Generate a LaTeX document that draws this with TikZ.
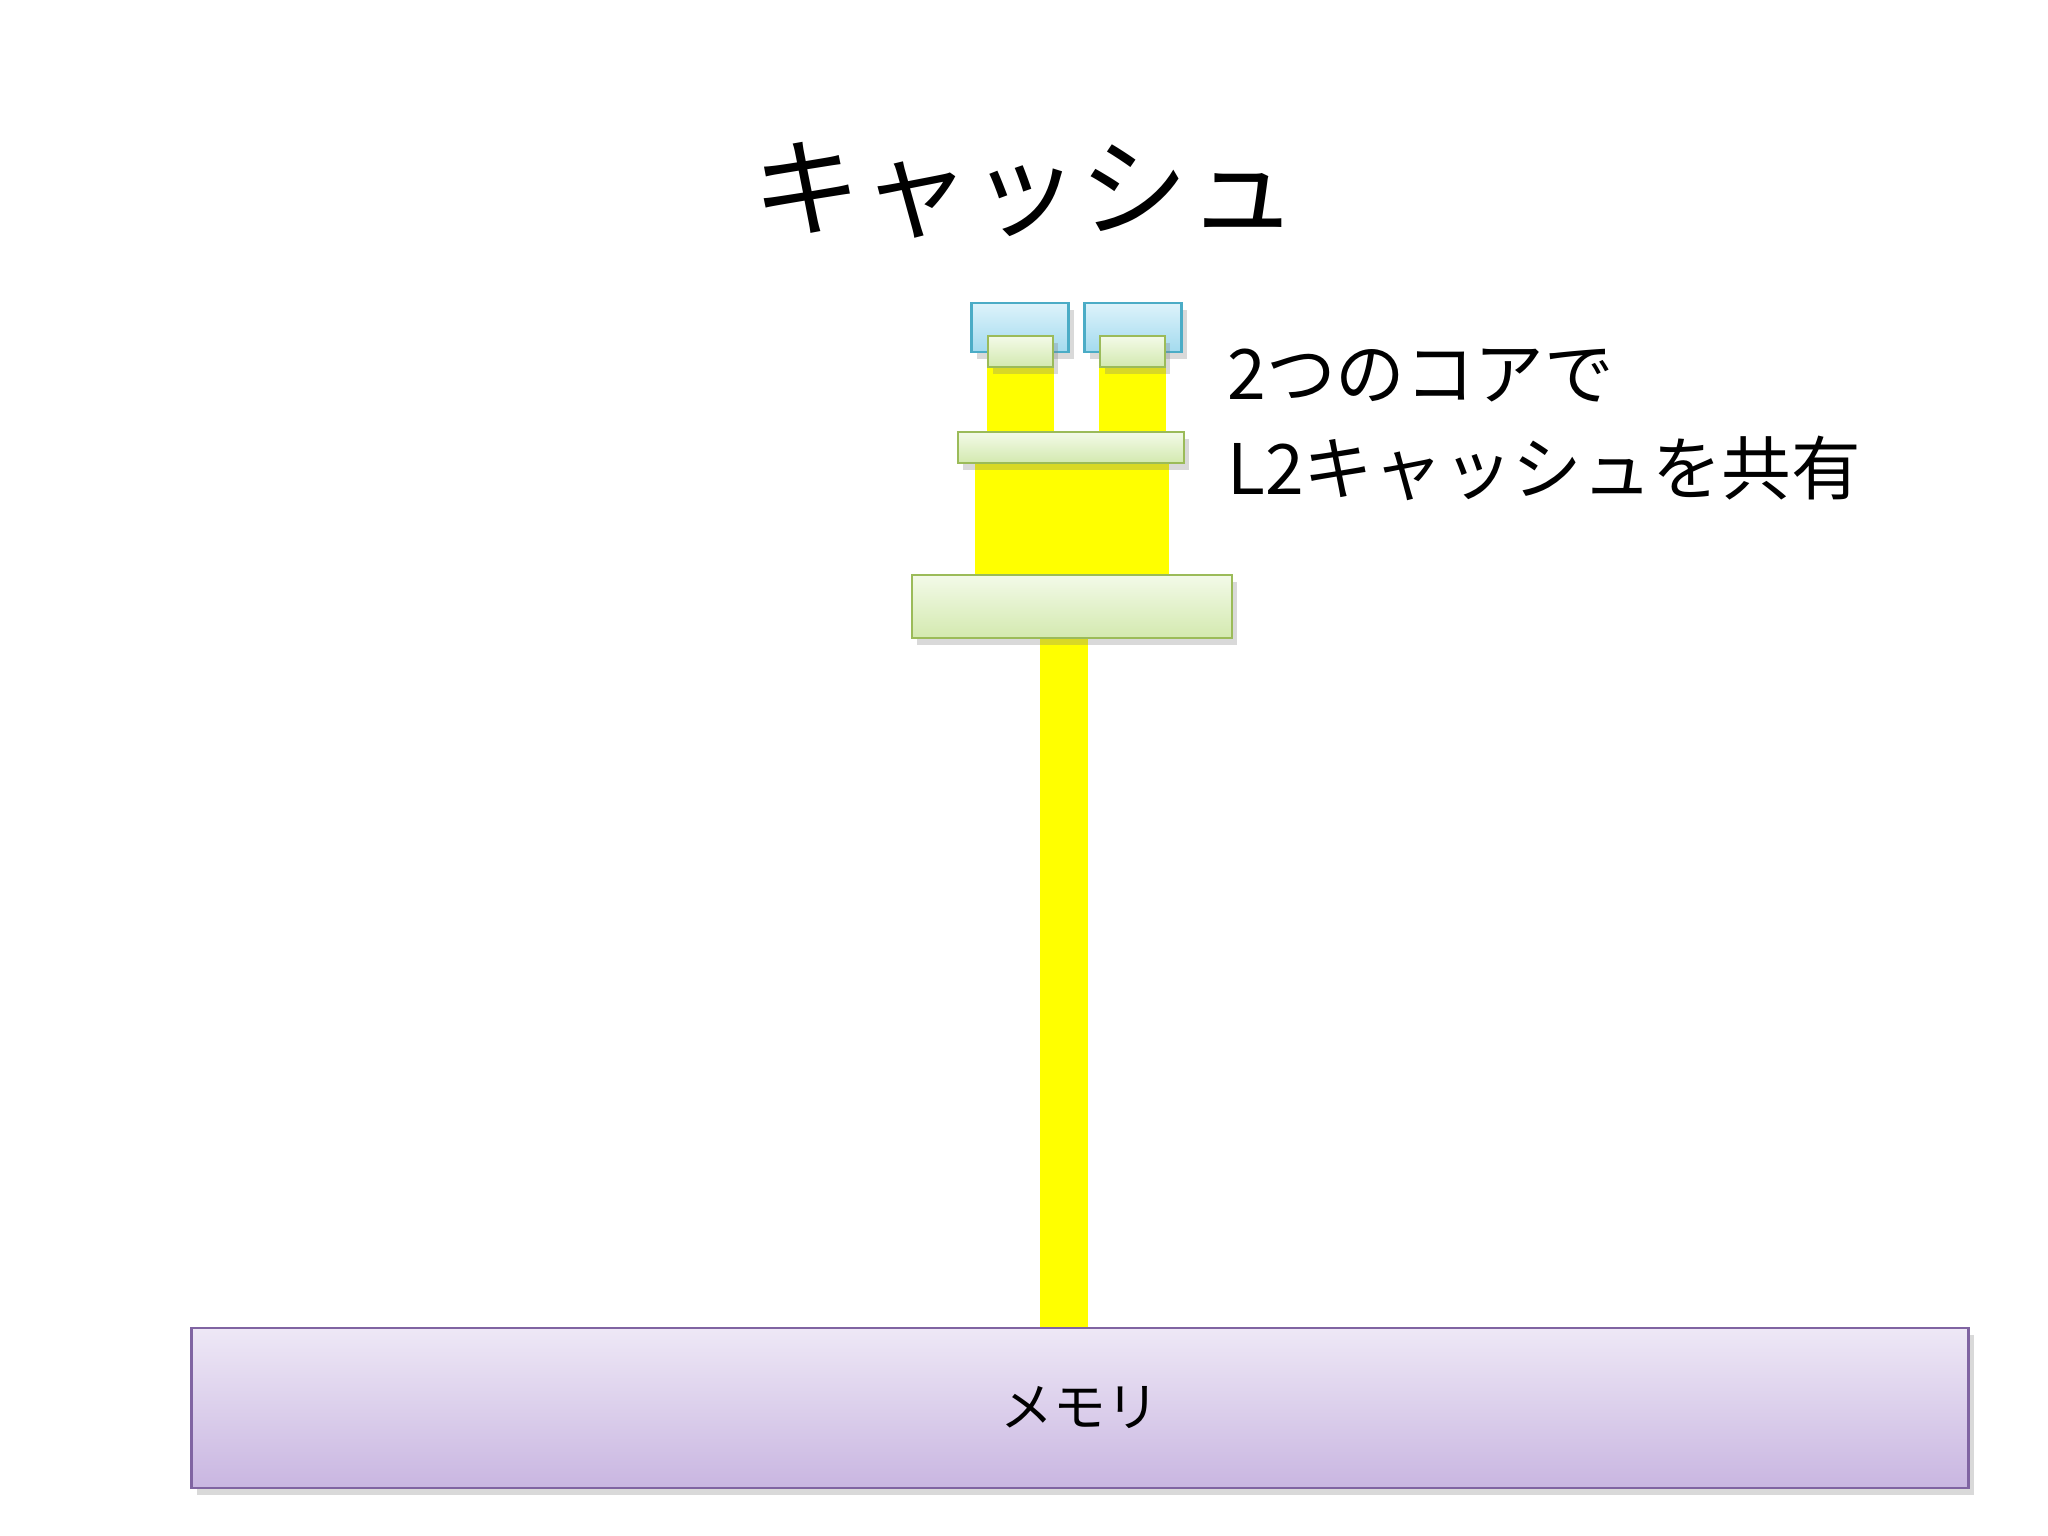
\documentclass[tikz,border=0pt]{standalone}
\usepackage{fontspec}
\newfontfamily\jpfont{Noto Sans CJK JP}
\usetikzlibrary{shadows,backgrounds}

\definecolor{coretop}{HTML}{DDF3FB}
\definecolor{corebot}{HTML}{A3DAEE}
\definecolor{coreline}{HTML}{4BACC6}
\definecolor{cachetop}{HTML}{F3FAE8}
\definecolor{cachebot}{HTML}{D3E9AF}
\definecolor{cacheline}{HTML}{9BBB59}
\definecolor{memtop}{HTML}{EEE8F6}
\definecolor{membot}{HTML}{C9B6E1}
\definecolor{memline}{HTML}{8064A2}
\definecolor{busyellow}{HTML}{FFFF00}

\begin{document}
\begin{tikzpicture}[x=0.01cm, y=-0.01cm,
    box/.style={draw, inner sep=0pt, line width=0.6pt,
        drop shadow={shadow xshift=1.5pt, shadow yshift=-2pt, opacity=0.3}},
    corebox/.style={box, draw=coreline, top color=coretop, bottom color=corebot,
        minimum width=0.97cm, minimum height=0.49cm},
    cachebox/.style={box, draw=cacheline, top color=cachetop, bottom color=cachebot},
    membox/.style={box, draw=memline, top color=memtop, bottom color=membot},
    bus/.style={fill=busyellow}]
    \useasboundingbox (0,0) rectangle (2048,1536);

    % title
    \node[font={\jpfont\fontsize{31}{37}\selectfont}] (title) at (1025,190) {キャッシュ};

    % cores and caches
    \node[corebox] (core1) at (1020,327.5) {};
    \node[corebox] (core2) at (1133,327.5) {};
    \node[cachebox, minimum width=0.65cm, minimum height=0.31cm] (l1a) at (1020.5,351.5) {};
    \node[cachebox, minimum width=0.65cm, minimum height=0.31cm] (l1b) at (1132.5,351.5) {};
    \node[cachebox, minimum width=2.26cm, minimum height=0.31cm] (l2) at (1071,447.5) {};
    \node[cachebox, minimum width=3.20cm, minimum height=0.63cm] (l3) at (1072,606.5) {};
    \node[membox, minimum width=17.76cm, minimum height=1.60cm,
        font={\jpfont\fontsize{15}{18}\selectfont}] (mem) at (1080,1408) {メモリ};

    % buses
    \coordinate (wideL) at ([xshift=0.18cm]l2.south west);
    \coordinate (wideR) at ([xshift=-0.16cm]l2.south east);
    \coordinate (memL) at ([xshift=-0.32cm]l3.south);
    \coordinate (memR) at ([xshift=0.16cm]l3.south);
    \begin{scope}[on background layer]
        \fill[bus] (l1a.south west) rectangle (l1a.south east |- l2.north);
        \fill[bus] (l1b.south west) rectangle (l1b.south east |- l2.north);
        \fill[bus] (wideL) rectangle (wideR |- l3.north);
        \fill[bus] (memL) rectangle (memR |- mem.north);
    \end{scope}

    \node[anchor=west, align=left, font={\jpfont\fontsize{19.8}{27}\selectfont}] (note) at (1215,425)
        {2つのコアで\\L2キャッシュを共有};
\end{tikzpicture}
\end{document}
